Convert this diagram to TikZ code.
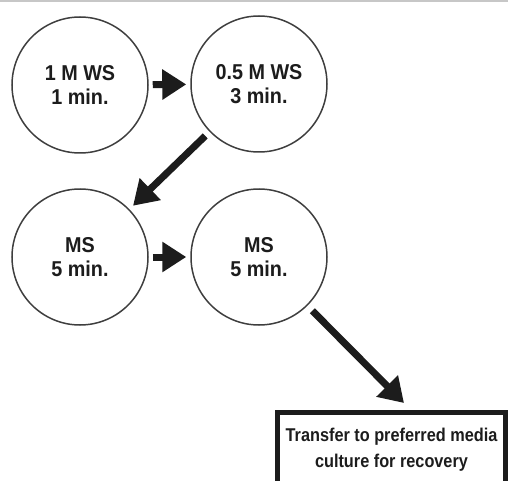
\documentclass[tikz,border=0pt]{standalone}
\usepackage{fontspec}
\setmainfont{Liberation Sans}[FakeStretch=0.92]
\newfontfamily\boxfont{Liberation Sans}[FakeStretch=0.88]
\usetikzlibrary{arrows.meta}
\definecolor{ink}{HTML}{1C1C1C}
\tikzset{
  stage/.style={circle, draw=ink!85, line width=1.5pt, minimum size=136pt, inner sep=0pt,
    align=center, text=ink, font=\fontsize{21.5}{24}\selectfont\bfseries},
  bigarrow/.style={draw=ink, line width=7pt,
    -{Triangle[length=24pt,width=29pt]}},
  endbox/.style={rectangle, draw=ink, line width=5pt, minimum width=228pt, minimum height=74.5pt,
    inner sep=0pt, align=center, text=ink, font=\boxfont\fontsize{18.5}{26}\selectfont\bfseries}
}
\begin{document}
\begin{tikzpicture}[x=1pt,y=-1pt]
\useasboundingbox (0,0) rectangle (508,481);
\clip (0,0) rectangle (508,481);
\draw[black!22, line width=1.6pt] (0,0.8) -- (508,0.8);
\node[stage] (c1) at (80,85) {1 M WS\\1 min.};
\node[stage] (c2) at (259,84) {0.5 M WS\\3 min.};
\node[stage] (c3) at (80,257) {MS\\5 min.};
\node[stage] (c4) at (259,257) {MS\\5 min.};
\node[endbox] (box) at (391.5,449.75) {Transfer to preferred media\\culture for recovery};
\coordinate (t) at ([shift={(12.5,-7)}]box.north);
\draw[bigarrow, shorten <=4pt, shorten >=4pt] (c1) -- (c2);
\draw[bigarrow, shorten <=4pt, shorten >=4pt] (c3) -- (c4);
\draw[bigarrow, shorten <=6pt, shorten >=5pt] (c2) -- (c3);
\draw[bigarrow, shorten <=7pt] (c4) -- (t);
\end{tikzpicture}
\end{document}
